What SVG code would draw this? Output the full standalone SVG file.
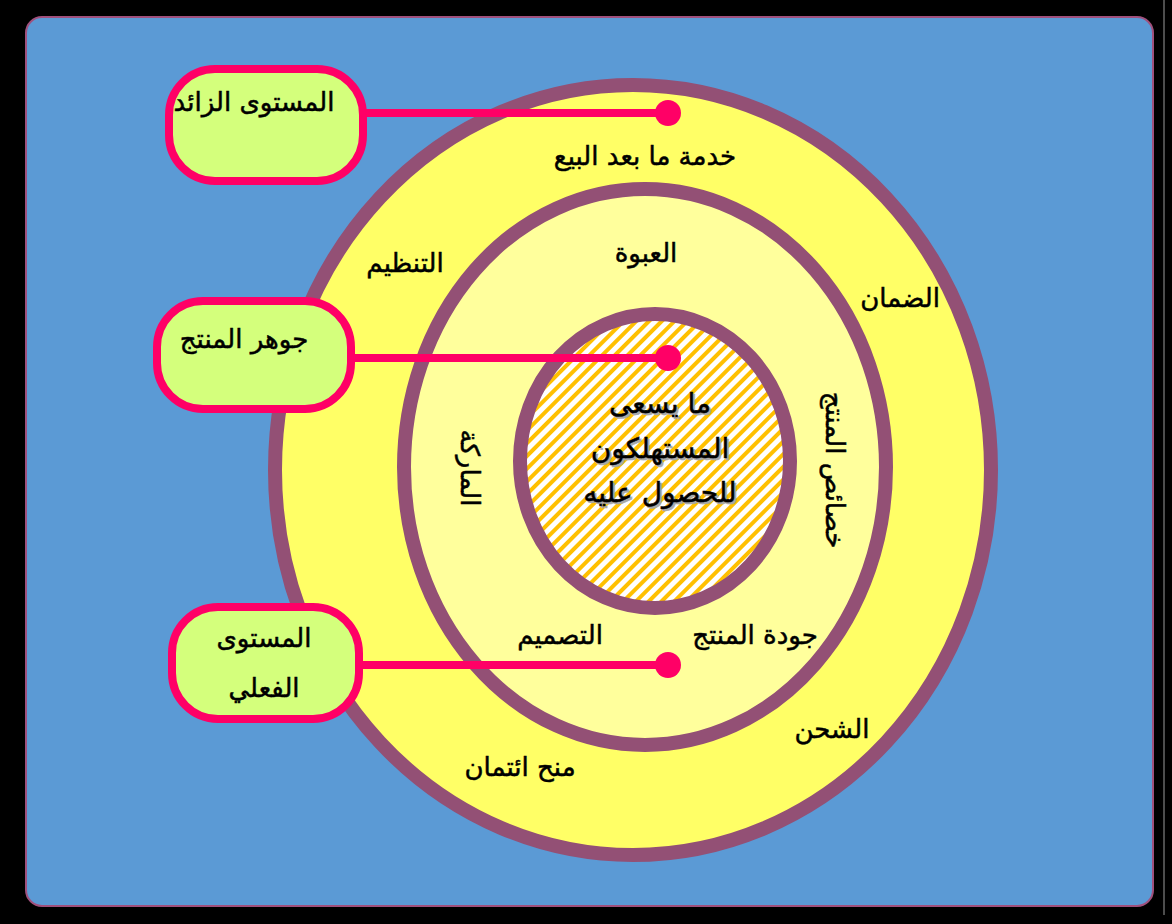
<svg xmlns="http://www.w3.org/2000/svg" width="1172" height="924" viewBox="0 0 1172 924">
<defs>
<pattern id="stripes" width="9" height="9" patternUnits="userSpaceOnUse" patternTransform="rotate(45)">
<rect width="9" height="9" fill="#FFFFFF"/>
<rect width="4" height="9" fill="#FFC000"/>
</pattern>
<style>
.ring{stroke:#935075;stroke-width:14}
.box{fill:#D4FF7C;stroke:#FF0066;stroke-width:8}
.conn{stroke:#FF0066;stroke-width:8;fill:none}
.dot{fill:#FF0066}
.t{font-family:"DejaVu Sans",sans-serif;font-size:26px;fill:#000;text-anchor:middle;stroke:#000;stroke-width:0.5}
.big{font-size:28px}
.sh{fill:#a8a8a8;stroke:#a8a8a8}
</style>
</defs>
<rect width="1172" height="924" fill="#000"/>
<line x1="1164" y1="0" x2="1164" y2="915" stroke="#9a9a9a" stroke-width="1"/>
<rect x="26" y="17" width="1127" height="889" rx="16" fill="#5B9AD5" stroke="#A0507C" stroke-width="2"/>
<g id="outer">
<ellipse cx="633" cy="470" rx="358" ry="385" fill="#FFFF66" class="ring"/>
<text class="t" x="645" y="165">خدمة ما بعد البيع</text>
<text class="t" x="405" y="272">التنظيم</text>
<text class="t" x="900" y="307">الضمان</text>
<text class="t" x="832" y="738">الشحن</text>
<text class="t" x="520" y="776">منح ائتمان</text>
</g>
<g id="middle">
<ellipse cx="645" cy="467" rx="241" ry="278" fill="#FFFF9C" class="ring"/>
<text class="t" x="646" y="262">العبوة</text>
<text class="t" transform="translate(461,468) rotate(90)">الماركة</text>
<text class="t" transform="translate(826,470) rotate(90)">خصائص المنتج</text>
<text class="t" x="560" y="644">التصميم</text>
<text class="t" x="755" y="644">جودة المنتج</text>
</g>
<g id="inner">
<ellipse cx="655" cy="461" rx="135" ry="147" fill="url(#stripes)" class="ring"/>
<text class="t big sh" x="662" y="415">ما يسعى</text>
<text class="t big sh" x="662" y="460">المستهلكون</text>
<text class="t big sh" x="662" y="504">للحصول عليه</text>
<text class="t big" x="660" y="413">ما يسعى</text>
<text class="t big" x="660" y="458">المستهلكون</text>
<text class="t big" x="660" y="502">للحصول عليه</text>
</g>
<g id="connectors">
<line class="conn" x1="362" y1="113" x2="668" y2="113"/>
<circle class="dot" cx="668" cy="113" r="13"/>
<line class="conn" x1="350" y1="358" x2="668" y2="358"/>
<circle class="dot" cx="668" cy="358" r="13"/>
<line class="conn" x1="358" y1="665" x2="668" y2="665"/>
<circle class="dot" cx="668" cy="665" r="13"/>
</g>
<g id="box-extra">
<rect class="box" x="169" y="69" width="194" height="112" rx="46"/>
<text class="t" x="254" y="111">المستوى الزائد</text>
</g>
<g id="box-core">
<rect class="box" x="157" y="301" width="194" height="108" rx="46"/>
<text class="t" x="244" y="348">جوهر المنتج</text>
</g>
<g id="box-actual">
<rect class="box" x="172" y="607" width="187" height="112" rx="46"/>
<text class="t" x="264" y="647">المستوى</text>
<text class="t" x="264" y="697">الفعلي</text>
</g>
</svg>
